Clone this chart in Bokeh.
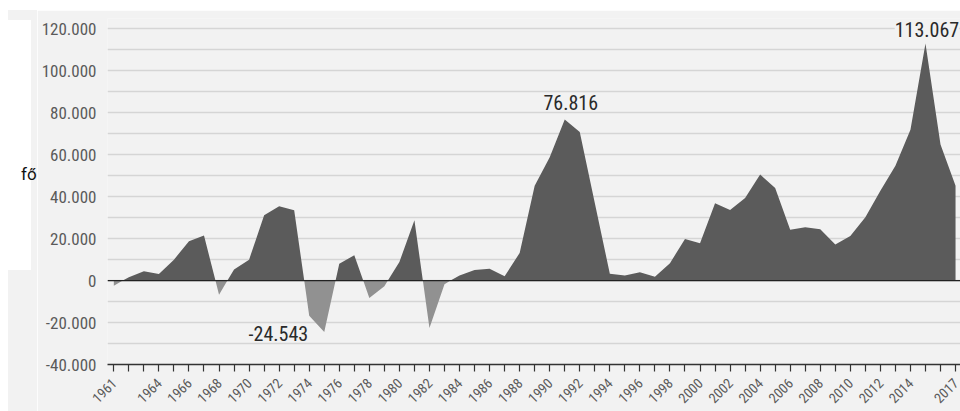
from bokeh.plotting import figure
from bokeh.embed import file_html
from bokeh.resources import INLINE
from bokeh.layouts import column, row
from bokeh.models import FixedTicker, Span, Label, Range1d, Div, Spacer

# ---- data ----
years = list(range(1961, 2018))
values = [
    -2400, 1600, 4500, 3200, 10000, 18800, 21500, -6700, 5300, 10000,   # 1961-1970
    31200, 35500, 33600, -16700, -24543, 8000, 12100, -8300, -2700, 8900,  # 1971-1980
    28800, -22600, -1700, 2500, 5100, 5700, 2100, 13200, 45300, 58800,  # 1981-1990
    76816, 70900, 37000, 3300, 2400, 4000, 1900, 8300, 19900, 17800,   # 1991-2000
    36900, 33700, 39400, 50600, 44200, 24200, 25400, 24500, 17200, 21300,  # 2001-2010
    30200, 42900, 54800, 71900, 113067, 64900, 45300,                   # 2011-2017
]
x_tick_labels = [1961, 1964, 1966, 1968, 1970, 1972, 1974, 1976, 1978, 1980,
                 1982, 1984, 1986, 1988, 1990, 1992, 1994, 1996, 1998, 2000,
                 2002, 2004, 2006, 2008, 2010, 2012, 2014, 2017]
y_ticks = [-40000, -20000, 0, 20000, 40000, 60000, 80000, 100000, 120000]
y_grid = list(range(-30000, 120001, 10000))
unit_label = "fő"
annotated = {1975: "-24.543", 1991: "76.816", 2015: "113.067"}

FONT = "Liberation Sans Narrow, Roboto Condensed, Arial Narrow, sans-serif"
BG = "#f2f2f2"

# insert zero crossings so the two colours split exactly at 0
xs, ys = [], []
for i in range(len(years)):
    if i > 0:
        y0, y1 = values[i - 1], values[i]
        if (y0 < 0 < y1) or (y0 > 0 > y1):
            t = y0 / (y0 - y1)
            xs.append(years[i - 1] + t)
            ys.append(0)
    xs.append(years[i])
    ys.append(values[i])
pos = [max(v, 0) for v in ys]
neg = [min(v, 0) for v in ys]
zeros = [0] * len(xs)

p = figure(width=923, height=401, output_backend="svg", toolbar_location=None,
           x_range=Range1d(1960.58, 2017.33), y_range=Range1d(-40000, 125000),
           min_border_left=70, min_border_right=0, min_border_top=8,
           min_border_bottom=47)
p.background_fill_color = BG
p.border_fill_color = BG
p.outline_line_color = None

p.varea(x=xs, y1=zeros, y2=pos, fill_color="#5b5b5b")
p.varea(x=xs, y1=zeros, y2=neg, fill_color="#919191")

p.add_layout(Span(location=0, dimension="width", line_color="#222222", line_width=1.2))

# grid
p.xgrid.visible = False
p.ygrid.ticker = FixedTicker(ticks=y_grid)
p.ygrid.grid_line_color = "#d5d5d5"
p.ygrid.grid_line_width = 1.3

# y axis
p.yaxis.ticker = FixedTicker(ticks=y_ticks)
p.yaxis.major_label_overrides = {t: "{:,}".format(t).replace(",", ".") for t in y_ticks}
p.yaxis.axis_line_color = None
p.yaxis.major_tick_line_color = None
p.yaxis.minor_tick_line_color = None
p.yaxis.major_tick_in = 0
p.yaxis.major_tick_out = 0
p.yaxis.minor_tick_in = 0
p.yaxis.minor_tick_out = 0
p.yaxis.major_label_text_font = FONT
p.yaxis.major_label_text_font_size = "17px"
p.yaxis.major_label_text_color = "#5a5a5a"
p.yaxis.major_label_standoff = 11

# x axis
p.xaxis.ticker = FixedTicker(ticks=years)
p.xaxis.major_label_overrides = {y: (str(y) if y in x_tick_labels else "") for y in years}
p.xaxis.major_label_orientation = 0.785398
p.xaxis.axis_line_color = "#333333"
p.xaxis.axis_line_width = 1.5
p.xaxis.major_tick_line_color = "#333333"
p.xaxis.major_tick_line_width = 1.2
p.xaxis.major_tick_in = 0
p.xaxis.major_tick_out = 7
p.xaxis.minor_tick_line_color = None
p.xaxis.major_label_text_font = FONT
p.xaxis.major_label_text_font_size = "14px"
p.xaxis.major_label_text_color = "#5a5a5a"
p.xaxis.major_label_standoff = 9

# value annotations
offsets = {1975: (-3.05, -700), 1991: (0.4, 8000), 2015: (0.1, 6600)}
for yr, txt in annotated.items():
    v = values[years.index(yr)]
    dx, dy = offsets[yr]
    lab = Label(x=yr + dx, y=v + dy, text=txt, text_font=FONT,
                text_font_size="20px", text_color="#2a2a2a",
                text_align="center", text_baseline="alphabetic")
    if yr == 2015:
        lab.background_fill_color = BG
        lab.background_fill_alpha = 1.0
    p.add_layout(lab)

# left strip: white box with the unit label
side_html = (
    '<div style="position:relative;width:37px;height:401px;'
    'background:linear-gradient(to right, #ffffff 8px, ' + BG + ' 8px);">'
    '<div style="position:absolute;left:8px;top:10px;width:23px;height:250px;'
    'background:#ffffff;"></div>'
    '<span style="position:absolute;left:21px;top:156px;font-family:Roboto,sans-serif;'
    'font-size:17px;line-height:17px;color:#111111;">' + unit_label + '</span>'
    '</div>'
)
side = Div(text=side_html, width=37, height=401, margin=0)

layout = column(Spacer(width=960, height=10, margin=0),
                row(side, p, margin=0, spacing=0),
                margin=0, spacing=0)

open("out.html", "w").write(file_html(layout, INLINE))
